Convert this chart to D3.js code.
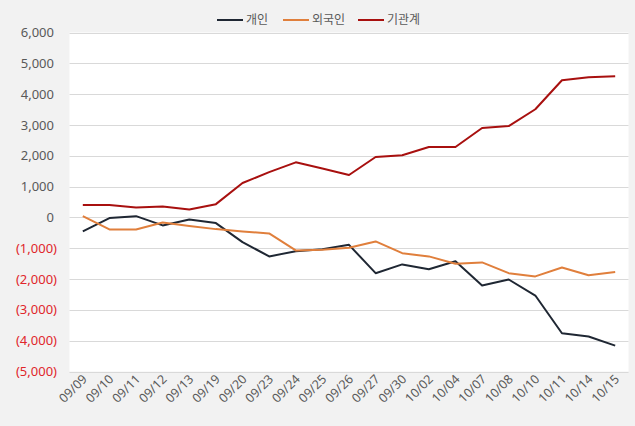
<!DOCTYPE html>
<html><head><meta charset="utf-8">
<script src="https://cdn.jsdelivr.net/npm/d3@7"></script>
<style>
html,body{margin:0;padding:0;background:#f2f2f2;}
svg{display:block;font-family:"Noto Sans","Noto Sans CJK KR",sans-serif;}
</style></head>
<body>
<svg id="c" width="635" height="426"></svg>
<script>
const categories = ["09/09","09/10","09/11","09/12","09/13","09/19","09/20","09/23","09/24","09/25","09/26","09/27","09/30","10/02","10/04","10/07","10/08","10/10","10/11","10/14","10/15"];
const individual = [-455,-20,40,-260,-65,-185,-800,-1265,-1095,-1030,-890,-1810,-1525,-1680,-1420,-2210,-2015,-2535,-3760,-3865,-4160];
const foreign = [45,-390,-390,-165,-280,-380,-455,-520,-1070,-1050,-985,-780,-1160,-1265,-1505,-1460,-1810,-1915,-1625,-1875,-1775];
const institution = [400,400,325,357,260,430,1115,1470,1787,1590,1375,1960,2015,2285,2285,2900,2965,3510,4450,4550,4580];
const seriesNames = ["개인","외국인","기관계"];
const yTicks = [6000,5000,4000,3000,2000,1000,0,-1000,-2000,-3000,-4000,-5000];

const colors = ["#1f2733","#e07f3c","#a8100f"];
const svg = d3.select("#c");
const L = 69.5, R = 628.5, T = 32.5, B = 371.5;

svg.append("rect").attr("x",L).attr("y",T).attr("width",R-L).attr("height",B-T).attr("fill","#ffffff");

const x = d3.scalePoint().domain(categories).range([L, R]).padding(0.5);
const y = d3.scaleLinear().domain([-5000,6000]).range([B, T]);

// grid
svg.append("g").selectAll("line").data(yTicks).join("line")
  .attr("x1",L).attr("x2",R)
  .attr("y1",d=>Math.round(y(d))+0.5).attr("y2",d=>Math.round(y(d))+0.5)
  .attr("stroke","#d9d9d9").attr("stroke-width",1);

// y labels (accounting style: positives leave room for the closing parenthesis)
const fmt = d3.format(",");
svg.append("g").selectAll("text").data(yTicks).join("text")
  .attr("x",d=>d<0?57:54).attr("y",d=>y(d)).attr("dy","0.35em")
  .attr("text-anchor","end").attr("font-size",13)
  .attr("fill",d=>d<0?"#e0262b":"#595959")
  .text(d=>d<0?"("+fmt(-d)+")":fmt(d));

// x labels
svg.append("g").selectAll("text").data(categories).join("text")
  .attr("transform",d=>`translate(${x(d)+5},${380}) rotate(-45)`)
  .attr("text-anchor","end").attr("font-size",12.5).attr("fill","#595959")
  .text(d=>d);

// lines
const data = [individual, foreign, institution];
const line = d3.line().x((d,i)=>x(categories[i])).y(d=>y(d));
data.forEach((s,k)=>{
  svg.append("path").datum(s).attr("d",line)
    .attr("fill","none").attr("stroke",colors[k]).attr("stroke-width",2)
    .attr("stroke-linejoin","round");
});

// legend
const legX = [217, 283, 358];
const lg = svg.append("g");
seriesNames.forEach((n,k)=>{
  lg.append("line").attr("x1",legX[k]).attr("x2",legX[k]+26).attr("y1",20).attr("y2",20)
    .attr("stroke",colors[k]).attr("stroke-width",2);
  lg.append("text").attr("x",legX[k]+29).attr("y",20).attr("dy","0.35em")
    .attr("font-size",12).attr("fill","#595959").text(n);
});
</script>
</body></html>
